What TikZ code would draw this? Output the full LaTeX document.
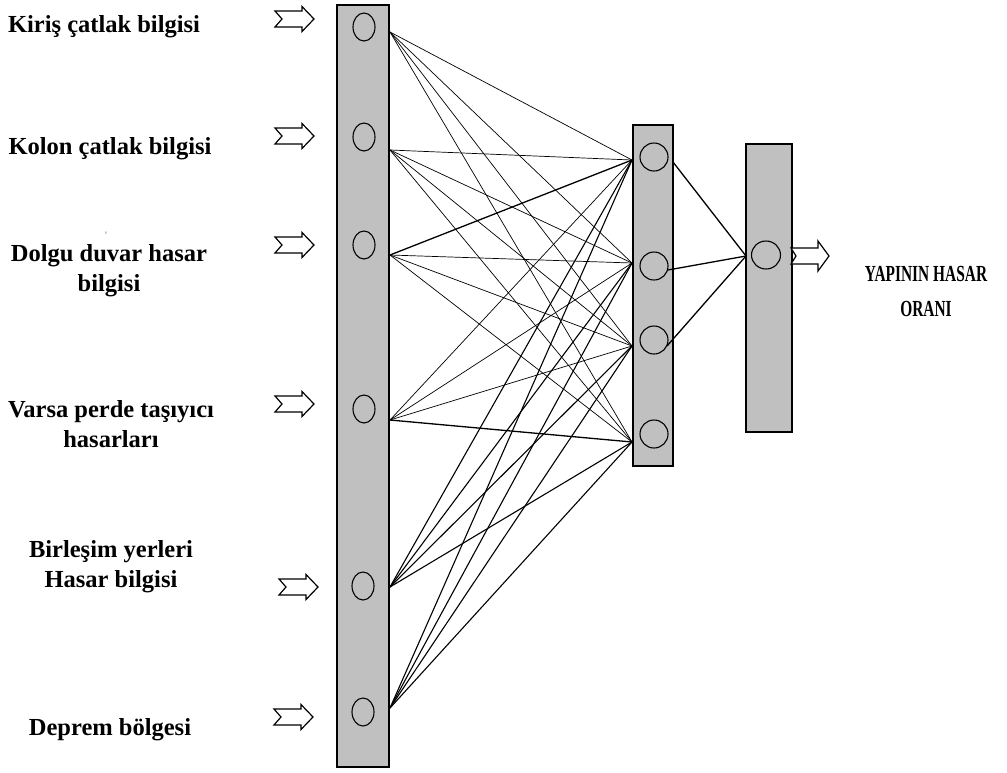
\documentclass[tikz,border=0pt]{standalone}
\usepackage{fontspec}
\setmainfont{Liberation Serif}
\newfontfamily\narrowserif[FakeStretch=0.67]{Liberation Serif}
\usetikzlibrary{shapes.geometric}

\definecolor{barfill}{RGB}{192,192,192}
\tikzset{
  layerbar/.style={draw=black, fill=barfill, line width=1.3pt, rectangle,
    inner sep=0pt, outer sep=0pt},
  innode/.style={draw=black, ellipse, line width=1.1pt, inner sep=0pt,
    minimum width=22pt, minimum height=28pt},
  hidnode/.style={draw=black, circle, line width=1.1pt, inner sep=0pt,
    minimum size=28pt},
  label/.style={font=\bfseries\fontsize{24.5}{30}\selectfont, align=center,
    inner sep=0pt},
  outlabel/.style={font=\narrowserif\bfseries\fontsize{23}{35}\selectfont,
    align=center, inner sep=0pt},
  thinw/.style={line width=0.7pt},
  thickw/.style={line width=1.3pt},
  midw/.style={line width=1.1pt},
  blockarrow/.pic={
    \draw[line width=1.2pt, fill=white, line join=miter]
      (-19,-8) -- (8,-8) -- (8,-12.5) -- (20,0) -- (8,12.5) -- (8,8)
      -- (-19,8) -- (-12,0) -- cycle;
  },
}

\begin{document}
\begin{tikzpicture}[x=1pt, y=-1pt]
  \useasboundingbox (0,0) rectangle (1007,772);

  % layers
  \node[layerbar, minimum width=52pt, minimum height=762pt] (inbar)  at (363,386) {};
  \node[layerbar, minimum width=40pt, minimum height=341pt] (hidbar) at (653,295.5) {};
  \node[layerbar, minimum width=46pt, minimum height=288pt] (outbar) at (769,288) {};

  % input neurons
  \node[innode] (i1) at (364,27) {};
  \node[innode] (i2) at (364,137) {};
  \node[innode] (i3) at (364,245) {};
  \node[innode] (i4) at (364,409) {};
  \node[innode] (i5) at (363,586) {};
  \node[innode] (i6) at (363,712) {};

  % hidden neurons
  \node[hidnode] (h1) at (654,157) {};
  \node[hidnode] (h2) at (654,266) {};
  \node[hidnode] (h3) at (654,340) {};
  \node[hidnode] (h4) at (654,434) {};

  % output neuron
  \node[hidnode, minimum width=29pt, minimum height=28pt, ellipse] (o1) at (766,255) {};

  % connection ports
  \coordinate (s1) at (390,32);
  \coordinate (s2) at (390,150);
  \coordinate (s3) at (390,255);
  \coordinate (s4) at (390,420);
  \coordinate (s5) at (390,587);
  \coordinate (s6) at (390,708);
  \coordinate (t1) at (632,160);
  \coordinate (t2) at (632,263);
  \coordinate (t3) at (632,346);
  \coordinate (t4) at (632,442);
  \coordinate (u1) at (673,162);
  \coordinate (u2) at (668,270);
  \coordinate (u3) at (667,346);
  \coordinate (v1) at (746,256);

  % input -> hidden weights
  \foreach \t in {t1,t2,t3,t4} {
    \draw[thinw] (s1) -- (\t);
    \draw[thinw] (s2) -- (\t);
  }
  \draw[thickw] (s3) -- (t1);
  \draw[thinw] (s3) -- (t2);
  \draw[thinw] (s3) -- (t3);
  \draw[thinw] (s3) -- (t4);
  \draw[thinw] (s4) -- (t1);
  \draw[thinw] (s4) -- (t2);
  \draw[thinw] (s4) -- (t3);
  \draw[thickw] (s4) -- (t4);
  \foreach \t in {t1,t2,t3,t4} {
    \draw[midw] (s5) -- (\t);
    \draw[midw] (s6) -- (\t);
  }

  % hidden -> output weights
  \draw[thickw] (u1) -- (v1);
  \draw[thickw] (u2) -- (v1);
  \draw[thickw] (u3) -- (v1);

  % input arrows
  \pic at (294,19)  {blockarrow};
  \pic at (294,136) {blockarrow};
  \pic at (294,245) {blockarrow};
  \pic at (294,404) {blockarrow};
  \pic at (298,587) {blockarrow};
  \pic at (293,717) {blockarrow};

  % output arrow
  \draw[line width=1.2pt, fill=white, line join=miter]
    (791,248) -- (818,248) -- (818,241) -- (829,256) -- (818,271) -- (818,264)
    -- (791,264) -- (796,256) -- cycle;

  % input labels
  \node[label] (l1) at (104,27)  {Kiriş çatlak bilgisi};
  \node[label] (l2) at (110,149) {Kolon çatlak bilgisi};
  \node[label] (l3) at (109,271) {Dolgu duvar hasar\\bilgisi};
  \node[label] (l4) at (111,424) {Varsa perde taşıyıcı\\hasarları};
  \node[label] (l5) at (111,567) {Birleşim yerleri\\Hasar bilgisi};
  \node[label] (l6) at (110,730) {Deprem bölgesi};
  \node[font=\fontsize{5}{6}\selectfont, text=black!60, inner sep=0pt] (mark) at (106,233) {v};

  % output label
  \node[outlabel] (lo) at (926,291) {YAPININ HASAR\\ORANI};
\end{tikzpicture}
\end{document}
